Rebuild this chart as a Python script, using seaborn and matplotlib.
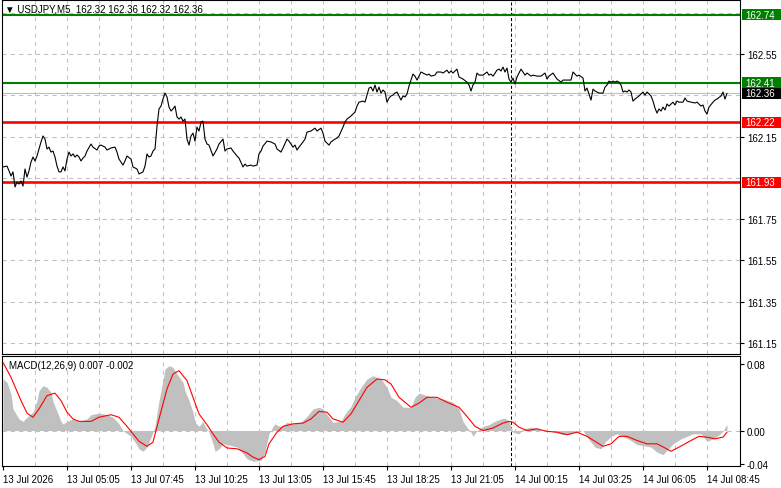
import matplotlib
matplotlib.use("Agg")
import matplotlib.pyplot as plt
import matplotlib.transforms as mtransforms
from matplotlib.patches import Rectangle
import seaborn as sns

# USDJPY M5 closes, indexed by bar number
bar_idx = [0, 2, 3, 4, 5, 6, 7, 8, 9, 10, 11, 12, 13, 14, 15, 16, 17, 18, 19, 20,
           21, 22, 23, 24, 25, 26, 27, 28, 29, 30, 31, 32, 33, 34, 35, 36, 37, 38, 39, 40,
           41, 42, 44, 45, 47, 48, 49, 51, 52, 54, 56, 57, 58, 60, 61, 62, 64, 65, 67, 68,
           70, 71, 72, 73, 74, 75, 76, 77, 78, 79, 80, 81, 82, 83, 84, 85, 86, 87, 88, 89,
           90, 91, 92, 93, 94, 95, 96, 97, 98, 99, 100, 101, 102, 103, 105, 107, 108, 110, 111, 112,
           114, 115, 117, 118, 120, 121, 122, 124, 125, 127, 128, 129, 130, 132, 134, 136, 137, 139, 140, 142,
           143, 145, 146, 147, 148, 150, 151, 152, 154, 156, 157, 159, 160, 161, 163, 164, 166, 167, 168, 170,
           171, 172, 174, 176, 177, 178, 180, 181, 182, 183, 184, 185, 186, 187, 188, 189, 190, 191, 192, 193,
           194, 195, 196, 197, 198, 199, 200, 201, 202, 203, 204, 205, 206, 207, 209, 210, 212, 213, 214, 216,
           217, 219, 220, 222, 223, 224, 225, 227, 228, 230, 232, 233, 234, 235, 236, 237, 238, 240, 242, 243,
           244, 245, 247, 248, 249, 250, 251, 252, 253, 254, 255, 256, 257, 259, 260, 261, 262, 264, 265, 267,
           269, 271, 272, 273, 275, 276, 277, 279, 280, 282, 284, 285, 286, 287, 288, 290, 291, 292, 293, 294,
           295, 296, 297, 298, 300, 301, 302, 303, 304, 305, 306, 307, 308, 309, 310, 311, 312, 313, 314, 315,
           316, 318, 320, 321, 322, 324, 325, 326, 327, 328, 329, 330, 331, 332, 333, 335, 336, 337, 338, 340,
           341, 342, 344, 346, 347, 349, 350, 351, 352, 353, 355, 356, 357, 359, 360, 361, 362]
close = [162.003, 162.007, 161.984, 161.959, 161.979, 161.906, 161.930, 161.920, 161.935, 161.910,
         161.993, 161.954, 161.984, 162.027, 162.051, 162.032, 162.056, 162.090, 162.124, 162.153,
         162.138, 162.090, 162.099, 162.075, 162.080, 162.051, 162.007, 161.979, 161.979, 162.003,
         161.984, 162.041, 162.075, 162.056, 162.066, 162.051, 162.061, 162.051, 162.032, 162.046,
         162.056, 162.080, 162.114, 162.099, 162.085, 162.104, 162.109, 162.099, 162.085, 162.095,
         162.099, 162.075, 162.041, 162.012, 162.032, 162.056, 162.041, 162.003, 161.993, 161.969,
         161.979, 162.007, 162.066, 162.051, 162.056, 162.080, 162.090, 162.201, 162.284, 162.298,
         162.332, 162.361, 162.342, 162.293, 162.274, 162.284, 162.298, 162.245, 162.235, 162.245,
         162.225, 162.235, 162.138, 162.109, 162.153, 162.167, 162.128, 162.196, 162.177, 162.221,
         162.225, 162.138, 162.114, 162.109, 162.056, 162.090, 162.114, 162.138, 162.080, 162.090,
         162.095, 162.080, 162.056, 162.046, 162.003, 162.017, 162.007, 162.012, 162.007, 162.012,
         162.066, 162.080, 162.104, 162.128, 162.124, 162.114, 162.090, 162.075, 162.095, 162.138,
         162.128, 162.099, 162.109, 162.085, 162.099, 162.124, 162.138, 162.172, 162.177, 162.191,
         162.177, 162.191, 162.167, 162.128, 162.109, 162.124, 162.138, 162.143, 162.153, 162.196,
         162.221, 162.235, 162.250, 162.269, 162.298, 162.317, 162.322, 162.317, 162.351, 162.385,
         162.390, 162.371, 162.400, 162.366, 162.390, 162.361, 162.376, 162.366, 162.317, 162.337,
         162.347, 162.351, 162.361, 162.366, 162.347, 162.327, 162.347, 162.342, 162.356, 162.395,
         162.424, 162.453, 162.443, 162.424, 162.463, 162.458, 162.448, 162.453, 162.443, 162.448,
         162.463, 162.463, 162.458, 162.472, 162.458, 162.468, 162.458, 162.477, 162.439, 162.429,
         162.414, 162.400, 162.371, 162.400, 162.414, 162.458, 162.448, 162.448, 162.463, 162.448,
         162.453, 162.443, 162.472, 162.477, 162.468, 162.487, 162.463, 162.482, 162.429, 162.414,
         162.434, 162.405, 162.439, 162.477, 162.463, 162.448, 162.458, 162.443, 162.448, 162.443,
         162.443, 162.458, 162.429, 162.443, 162.458, 162.443, 162.429, 162.414, 162.424, 162.424,
         162.424, 162.463, 162.453, 162.443, 162.448, 162.434, 162.371, 162.385, 162.356, 162.327,
         162.380, 162.371, 162.366, 162.361, 162.361, 162.390, 162.400, 162.419, 162.414, 162.419,
         162.414, 162.419, 162.414, 162.400, 162.366, 162.371, 162.366, 162.376, 162.366, 162.322,
         162.332, 162.347, 162.366, 162.351, 162.366, 162.347, 162.322, 162.288, 162.264, 162.284,
         162.274, 162.293, 162.279, 162.308, 162.298, 162.317, 162.303, 162.322, 162.317, 162.317,
         162.337, 162.322, 162.317, 162.313, 162.317, 162.298, 162.303, 162.274, 162.259, 162.293,
         162.317, 162.327, 162.332, 162.347, 162.366, 162.332, 162.360]

# MACD(12,26,9) histogram and signal line
hist_idx = [0, 2, 4, 5, 8, 10, 12, 15, 17, 18, 20, 22, 24, 25, 27, 29, 30, 32, 35, 38,
            42, 44, 48, 52, 55, 58, 60, 61, 64, 66, 68, 70, 72, 74, 76, 78, 80, 81, 83, 85,
            87, 90, 91, 93, 95, 96, 98, 100, 101, 103, 105, 106, 108, 110, 114, 117, 120, 122, 125, 129,
            131, 133, 135, 136, 139, 142, 145, 149, 152, 155, 158, 160, 163, 165, 169, 171, 174, 176, 179, 182,
            185, 189, 192, 194, 197, 200, 204, 206, 208, 212, 215, 220, 225, 228, 230, 232, 234, 235, 237, 240,
            243, 245, 249, 251, 253, 255, 258, 260, 264, 267, 270, 274, 277, 280, 284, 287, 290, 292, 294, 296,
            299, 301, 304, 307, 310, 314, 317, 320, 324, 327, 330, 332, 335, 339, 342, 345, 349, 352, 355, 357,
            360, 361, 362]
macd_hist = [0.062, 0.058, 0.044, 0.026, 0.014, 0.011, 0.016, 0.022, 0.036, 0.048,
             0.054, 0.052, 0.046, 0.035, 0.023, 0.011, 0.008, 0.011, 0.014, 0.011,
             0.014, 0.019, 0.021, 0.019, 0.016, 0.008, 0.000, -0.002, -0.007, -0.014,
             -0.022, -0.025, -0.020, -0.008, 0.005, 0.036, 0.060, 0.074, 0.078, 0.076,
             0.068, 0.058, 0.048, 0.036, 0.022, 0.010, 0.005, 0.011, 0.005, -0.002,
             -0.016, -0.025, -0.022, -0.016, -0.018, -0.020, -0.028, -0.034, -0.037, -0.036,
             -0.025, -0.004, 0.005, 0.008, 0.004, 0.010, 0.008, 0.010, 0.017, 0.026,
             0.028, 0.026, 0.016, 0.010, 0.011, 0.020, 0.029, 0.040, 0.052, 0.062,
             0.066, 0.062, 0.052, 0.040, 0.036, 0.028, 0.028, 0.040, 0.045, 0.042,
             0.040, 0.038, 0.034, 0.026, 0.011, 0.004, -0.002, -0.007, 0.000, 0.005,
             0.007, 0.010, 0.014, 0.015, 0.011, -0.002, -0.004, 0.002, 0.004, 0.003,
             0.000, -0.001, -0.003, -0.005, -0.004, -0.001, 0.000, -0.008, -0.014, -0.020,
             -0.022, -0.014, -0.007, -0.004, -0.007, -0.012, -0.017, -0.018, -0.020, -0.026,
             -0.029, -0.024, -0.016, -0.010, -0.007, -0.004, -0.004, -0.013, -0.010, -0.007,
             -0.001, 0.004, 0.007]
sig_idx = [0, 4, 9, 12, 15, 18, 22, 26, 29, 32, 35, 38, 44, 48, 54, 58, 62, 65, 68, 72,
           75, 78, 82, 85, 88, 92, 95, 98, 102, 105, 108, 112, 117, 122, 125, 128, 131, 133, 137, 140,
           145, 150, 154, 158, 162, 165, 170, 174, 178, 182, 187, 191, 194, 198, 204, 208, 212, 217, 222, 228,
           232, 236, 240, 245, 250, 253, 255, 258, 262, 267, 272, 277, 282, 287, 292, 296, 300, 304, 308, 312,
           317, 322, 327, 331, 334, 338, 344, 348, 352, 356, 360, 362]
macd_signal = [0.082, 0.064, 0.036, 0.021, 0.016, 0.026, 0.042, 0.045, 0.036, 0.022,
               0.014, 0.011, 0.011, 0.016, 0.019, 0.016, 0.005, -0.004, -0.013, -0.019,
               -0.014, 0.014, 0.050, 0.068, 0.072, 0.060, 0.040, 0.020, 0.007, -0.004,
               -0.014, -0.021, -0.022, -0.027, -0.032, -0.035, -0.031, -0.016, -0.002, 0.005,
               0.008, 0.009, 0.014, 0.023, 0.022, 0.014, 0.010, 0.020, 0.036, 0.052,
               0.062, 0.061, 0.056, 0.040, 0.028, 0.033, 0.040, 0.040, 0.034, 0.028,
               0.017, 0.005, 0.000, 0.003, 0.009, 0.011, 0.010, 0.004, 0.000, 0.002,
               -0.001, -0.002, -0.005, -0.002, -0.007, -0.013, -0.019, -0.016, -0.007, -0.007,
               -0.012, -0.016, -0.016, -0.021, -0.025, -0.020, -0.012, -0.007, -0.008, -0.010,
               -0.008, -0.002]

time_labels = ["13 Jul 2026", "13 Jul 05:05", "13 Jul 07:45", "13 Jul 10:25", "13 Jul 13:05",
               "13 Jul 15:45", "13 Jul 18:25", "13 Jul 21:05", "14 Jul 00:15", "14 Jul 03:25",
               "14 Jul 06:05", "14 Jul 08:45"]
price_ticks = [161.15, 161.35, 161.55, 161.75, 161.95, 162.15, 162.35, 162.55, 162.75]
shown_ticks = [161.15, 161.35, 161.55, 161.75, 162.15, 162.55]
macd_ticks = [-0.04, 0.00, 0.08]
green_levels = [162.74, 162.41]
red_levels = [162.22, 161.93]
bid = 162.36
day_sep = 254

sns.set_style("white")
plt.rcParams["font.family"] = ["Liberation Sans", "DejaVu Sans"]
plt.rcParams["font.size"] = 7

W, H = 781, 489
fig = plt.figure(figsize=(W / 100, H / 100), dpi=100)
fig.patch.set_facecolor("white")
ax = fig.add_axes([2 / W, 1 - 355 / H, 738 / W, 354 / H])
ax2 = fig.add_axes([2 / W, 1 - 467 / H, 738 / W, 110 / H])

GRID = "#C0C0C0"
grid_ls = (0, (4, 4))
n_bars = 369

for a in (ax, ax2):
    a.set_xlim(-0.5, n_bars - 0.5)
    for s in a.spines.values():
        s.set_color("black")
        s.set_linewidth(0.8)
    for gx in range(16, 353, 16):
        a.axvline(gx, color=GRID, lw=0.75, ls=grid_ls, zorder=0.5)
    a.axvline(day_sep, color="black", lw=0.75, ls=(0, (3, 2)), zorder=1)
    a.yaxis.tick_right()
    a.tick_params(axis="y", left=False, right=True, labelleft=False, labelright=True,
                  direction="out", length=3, width=0.8, pad=2, labelsize=7, colors="black")

# main price panel
ax.set_ylim(161.0965, 162.812)
for gy in price_ticks:
    ax.axhline(gy, color=GRID, lw=0.75, ls=grid_ls, zorder=0.5)
ax.axhline(bid, color=GRID, lw=0.8, zorder=1)
for lv in green_levels:
    ax.axhline(lv, color="#008000", lw=1.5, zorder=2)
for lv in red_levels:
    ax.axhline(lv, color="#FF0000", lw=1.9, zorder=2)
sns.lineplot(x=bar_idx, y=close, ax=ax, color="black", lw=0.8, estimator=None, sort=False, zorder=3)
ax.set_yticks(shown_ticks)
ax.set_yticklabels([f"{t:.2f}" for t in shown_ticks])
ax.tick_params(axis="x", bottom=False, labelbottom=False)
ax.set_xlabel("")
ax.set_ylabel("")

trans = mtransforms.blended_transform_factory(ax.transAxes, ax.transData)
box_h = 11 / 206.4
boxes = [(green_levels[0], "#008000"), (green_levels[1], "#008000"), (bid, "black"),
         (red_levels[0], "#FF0000"), (red_levels[1], "#FF0000")]
for lv, col in boxes:
    ax.add_patch(Rectangle((1.0027, lv - box_h / 2), 0.07, box_h, transform=trans,
                           facecolor=col, edgecolor="none", clip_on=False, zorder=5))
    ax.text(1.0068, lv, f"{lv:.2f}", transform=trans, color="white", fontsize=7,
            va="center", ha="left", clip_on=False, zorder=6)

fig.text(5 / W, 1 - 10 / H, "\u25bc USDJPY,M5  162.32 162.36 162.32 162.36",
         fontsize=7, va="center", ha="left", color="black")

# MACD panel
ax2.set_ylim(-0.0427, 0.0897)
ax2.axhline(0, color=GRID, lw=0.75, ls=grid_ls, zorder=0.5)
ax2.fill_between(hist_idx, 0, macd_hist, color="#C0C0C0", lw=0, zorder=1.5)
sns.lineplot(x=sig_idx, y=macd_signal, ax=ax2, color="#FF0000", lw=0.8, estimator=None, sort=False, zorder=3)
ax2.set_yticks(macd_ticks)
ax2.set_yticklabels(["-0.04", "0.00", "0.08"])
ax2.set_xticks(range(0, 353, 32))
ax2.set_xticklabels(time_labels, ha="left")
ax2.tick_params(axis="x", bottom=True, direction="out", length=3, width=0.8, pad=3,
                labelsize=7, colors="black")
ax2.set_xlabel("")
ax2.set_ylabel("")
ax2.text(7 / 738, 1 - 9 / 110, "MACD(12,26,9) 0.007 -0.002", transform=ax2.transAxes,
         fontsize=7, va="center", ha="left", color="black")

fig.savefig("out.png", dpi=100)
